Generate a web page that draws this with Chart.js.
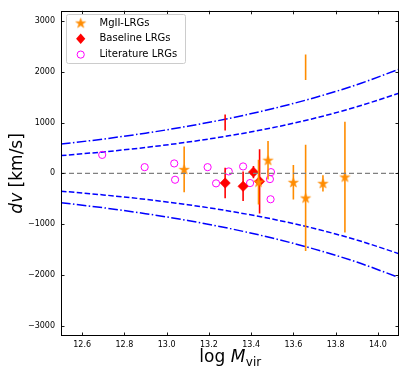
<!DOCTYPE html>
<html><head><meta charset="utf-8">
<script src="https://cdn.jsdelivr.net/npm/chart.js@4/dist/chart.umd.min.js"></script>
<style>html,body{margin:0;padding:0;background:#fff}#wrap{width:407px;height:378px;position:relative}</style>
</head><body><div id="wrap"><canvas id="c" width="407" height="378"></canvas></div>
<script>
// ---------- data ----------
const seriesNames = ['MgII-LRGs', 'Baseline LRGs', 'Literature LRGs'];

// MgII-LRGs (orange stars)
const mgX   = [13.083, 13.435, 13.480, 13.600, 13.658, 13.740, 13.844];
const mgY   = [78, -170, 260, -176, -483, -196, -72];
const mgErr = [450, 440, 380, 340, 1045, 160, 1090];
// error segment drawn without a marker
const mgBarX  = [13.658];
const mgBarLo = [1840];
const mgBarHi = [2340];

// Baseline LRGs (red diamonds)
const baseX   = [13.277, 13.362, 13.411, 13.440];
const baseY   = [-190, -254, 25, -157];
const baseErr = [300, 290, 120, 630];
const baseBarX  = [13.277];
const baseBarLo = [845];
const baseBarHi = [1160];

// Literature LRGs (magenta open circles)
const litX = [12.695, 12.896, 13.036, 13.040, 13.194, 13.234, 13.294, 13.362, 13.395, 13.494, 13.489, 13.492];
const litY = [364, 123, 196, -125, 123, -196, 39, 137, -190, 25, -112, -509];

// envelope curves (symmetric about 0)
const curveX    = [12.5, 12.7, 12.9, 13.1, 13.3, 13.5, 13.7, 13.9, 14.1];
const dashedV   = [350, 423, 510, 616, 744, 898, 1085, 1310, 1580];
const dashDotV  = [577, 676, 792, 927, 1086, 1272, 1490, 1745, 2050];

// axes
const xRange = [12.5, 14.1];
const yRange = [-3200, 3200];
const xTicks = [12.6, 12.8, 13.0, 13.2, 13.4, 13.6, 13.8, 14.0];
const yTicks = [-3000, -2000, -1000, 0, 1000, 2000, 3000];

// ---------- styles ----------
const ORANGE = '#ff8c00', RED = '#ff0000', MAGENTA = '#ff00ff', BLUE = '#0000ff';
const FONT = "'DejaVu Sans', sans-serif";

function makeStar(r, color) {
  const s = Math.ceil(r * 2 + 2);
  const c = document.createElement('canvas'); c.width = s; c.height = s;
  const g = c.getContext('2d'); g.beginPath();
  const ri = r * 0.381966;
  for (let i = 0; i < 10; i++) {
    const a = -Math.PI / 2 + i * Math.PI / 5; const rr = i % 2 ? ri : r;
    g.lineTo(s / 2 + rr * Math.cos(a), s / 2 + 0.4 + rr * Math.sin(a));
  }
  g.closePath(); g.fillStyle = color; g.fill();
  g.strokeStyle = color; g.lineWidth = 0.6; g.stroke();
  return c;
}
const starImg = makeStar(5.2, ORANGE);

const pts = (xs, ys) => xs.map((x, i) => ({ x, y: ys[i] }));
const curveDs = (vals, sign, dash) => ({
  data: curveX.map((x, i) => ({ x, y: sign * vals[i] })),
  showLine: true, borderColor: BLUE, borderWidth: 1.5, borderDash: dash,
  pointRadius: 0, fill: false, cubicInterpolationMode: 'monotone', order: 10
});
const DASH = [5.5, 2.4], DASHDOT = [9.6, 2.4, 1.5, 2.4];

const datasets = [
  curveDs(dashDotV, 1, DASHDOT),
  curveDs(dashedV, 1, DASH),
  curveDs(dashedV, -1, DASH),
  curveDs(dashDotV, -1, DASHDOT),
  { data: [{ x: xRange[0], y: 0 }, { x: xRange[1], y: 0 }], showLine: true,
    borderColor: '#808080', borderWidth: 1.3, borderDash: [5, 3], pointRadius: 0 },
  { label: seriesNames[0], data: pts(mgX, mgY), pointStyle: starImg, pointRadius: 6,
    err: mgErr, barX: mgBarX, barLo: mgBarLo, barHi: mgBarHi, errColor: ORANGE },
  { label: seriesNames[1], data: pts(baseX, baseY), pointStyle: 'rectRot', pointRadius: 5.2,
    backgroundColor: RED, borderColor: RED, borderWidth: 0.5,
    err: baseErr, barX: baseBarX, barLo: baseBarLo, barHi: baseBarHi, errColor: RED },
  { label: seriesNames[2], data: pts(litX, litY), pointStyle: 'circle', pointRadius: 3.6,
    backgroundColor: 'rgba(0,0,0,0)', borderColor: MAGENTA, borderWidth: 1 }
];

// error bars drawn right before each marker dataset
const errPlugin = {
  id: 'errbars',
  beforeDatasetDraw(chart, args) {
    const ds = chart.data.datasets[args.index];
    if (!ds.err && !ds.barX) return;
    const xs = chart.scales.x, ys = chart.scales.y, ctx = chart.ctx;
    ctx.save();
    const a = chart.chartArea;
    ctx.beginPath(); ctx.rect(a.left, a.top, a.right - a.left, a.bottom - a.top); ctx.clip();
    ctx.strokeStyle = ds.errColor; ctx.lineWidth = 1.6; ctx.setLineDash([]);
    (ds.err || []).forEach((e, i) => {
      const p = ds.data[i]; const px = xs.getPixelForValue(p.x);
      ctx.beginPath(); ctx.moveTo(px, ys.getPixelForValue(p.y - e)); ctx.lineTo(px, ys.getPixelForValue(p.y + e)); ctx.stroke();
    });
    (ds.barX || []).forEach((x, i) => {
      const px = xs.getPixelForValue(x);
      ctx.beginPath(); ctx.moveTo(px, ys.getPixelForValue(ds.barLo[i])); ctx.lineTo(px, ys.getPixelForValue(ds.barHi[i])); ctx.stroke();
    });
    ctx.restore();
  }
};

// frame, inward ticks, axis titles, legend
const decoPlugin = {
  id: 'deco',
  afterDraw(chart) {
    const ctx = chart.ctx, a = chart.chartArea, xs = chart.scales.x, ys = chart.scales.y;
    ctx.save();
    ctx.strokeStyle = '#000'; ctx.lineWidth = 1; ctx.setLineDash([]);
    ctx.strokeRect(Math.round(a.left) + 0.5, Math.round(a.top) + 0.5, Math.round(a.right - a.left) - 1, Math.round(a.bottom - a.top) - 1);
    ctx.lineWidth = 0.9;
    const TL = 3.5;
    xTicks.forEach(v => {
      const px = Math.round(xs.getPixelForValue(v)) + 0.5;
      ctx.beginPath(); ctx.moveTo(px, a.bottom); ctx.lineTo(px, a.bottom - TL);
      ctx.moveTo(px, a.top); ctx.lineTo(px, a.top + TL); ctx.stroke();
    });
    yTicks.forEach(v => {
      const py = Math.round(ys.getPixelForValue(v)) + 0.5;
      ctx.beginPath(); ctx.moveTo(a.left, py); ctx.lineTo(a.left + TL, py);
      ctx.moveTo(a.right, py); ctx.lineTo(a.right - TL, py); ctx.stroke();
    });

    // x title: log M_vir
    ctx.fillStyle = '#000'; ctx.textBaseline = 'alphabetic';
    const f1 = "17px " + FONT, f2 = "italic 17px " + FONT, f3 = "12px " + FONT;
    ctx.font = f1; const w1 = ctx.measureText('log ').width;
    ctx.font = f2; const w2 = ctx.measureText('M').width;
    ctx.font = f3; const w3 = ctx.measureText('vir').width;
    let x0 = (a.left + a.right) / 2 - (w1 + w2 + w3) / 2;
    const by = 362;
    ctx.font = f1; ctx.fillText('log ', x0, by); x0 += w1;
    ctx.font = f2; ctx.fillText('M', x0, by); x0 += w2 + 0.5;
    ctx.font = f3; ctx.fillText('vir', x0, by + 4);

    // y title: dv [km/s]
    ctx.save();
    ctx.translate(22, (a.top + a.bottom) / 2);
    ctx.rotate(-Math.PI / 2);
    ctx.font = f2; const d1 = ctx.measureText('dv').width;
    ctx.font = f1; const d2 = ctx.measureText(' [km/s]').width;
    let y0 = -(d1 + d2) / 2;
    ctx.font = f2; ctx.fillText('dv', y0, 0);
    ctx.font = f1; ctx.fillText(' [km/s]', y0 + d1, 0);
    ctx.restore();

    // legend
    const L = { x: 66, y: 14, w: 119, h: 49 };
    ctx.fillStyle = 'rgba(255,255,255,0.8)'; ctx.strokeStyle = '#cccccc'; ctx.lineWidth = 1;
    ctx.beginPath();
    if (ctx.roundRect) ctx.roundRect(L.x + 0.5, L.y + 0.5, L.w, L.h, 2); else ctx.rect(L.x + 0.5, L.y + 0.5, L.w, L.h);
    ctx.fill(); ctx.stroke();
    const rows = [23, 38.8, 54.6], mx = 80.7, tx = 99.5;
    ctx.drawImage(starImg, mx - starImg.width / 2, rows[0] - starImg.height / 2);
    ctx.fillStyle = RED; ctx.beginPath();
    ctx.moveTo(mx, rows[1] - 5.2); ctx.lineTo(mx + 4.6, rows[1]); ctx.lineTo(mx, rows[1] + 5.2); ctx.lineTo(mx - 4.6, rows[1]); ctx.closePath(); ctx.fill();
    ctx.strokeStyle = MAGENTA; ctx.lineWidth = 1; ctx.beginPath(); ctx.arc(mx, rows[2], 3.6, 0, Math.PI * 2); ctx.stroke();
    ctx.fillStyle = '#000'; ctx.font = "10px " + FONT; ctx.textBaseline = 'middle';
    seriesNames.forEach((n, i) => ctx.fillText(n, tx, rows[i]));
    ctx.restore();
  }
};

const fmt = v => (v < 0 ? '\u2212' + Math.abs(v) : String(v));
new Chart(document.getElementById('c'), {
  type: 'scatter',
  data: { datasets },
  options: {
    responsive: false, animation: false, devicePixelRatio: 1,
    layout: { padding: { top: 9, right: 8, left: 0, bottom: 0 } },
    plugins: { legend: { display: false }, tooltip: { enabled: false } },
    scales: {
      x: {
        type: 'linear', min: xRange[0], max: xRange[1],
        afterBuildTicks: s => { s.ticks = xTicks.map(v => ({ value: v })); },
        afterFit: s => { s.height = 42; },
        grid: { display: false, drawTicks: false }, border: { display: false },
        ticks: { padding: 4, color: '#000', font: { family: FONT, size: 8 }, maxRotation: 0, autoSkip: false,
                 callback: v => v.toFixed(1) }
      },
      y: {
        type: 'linear', min: yRange[0], max: yRange[1],
        afterBuildTicks: s => { s.ticks = yTicks.map(v => ({ value: v })); },
        afterFit: s => { s.width = 61; },
        grid: { display: false, drawTicks: false }, border: { display: false },
        ticks: { padding: 6, color: '#000', font: { family: FONT, size: 8 }, autoSkip: false, callback: v => fmt(v) }
      }
    }
  },
  plugins: [errPlugin, decoPlugin]
});
</script></body></html>
